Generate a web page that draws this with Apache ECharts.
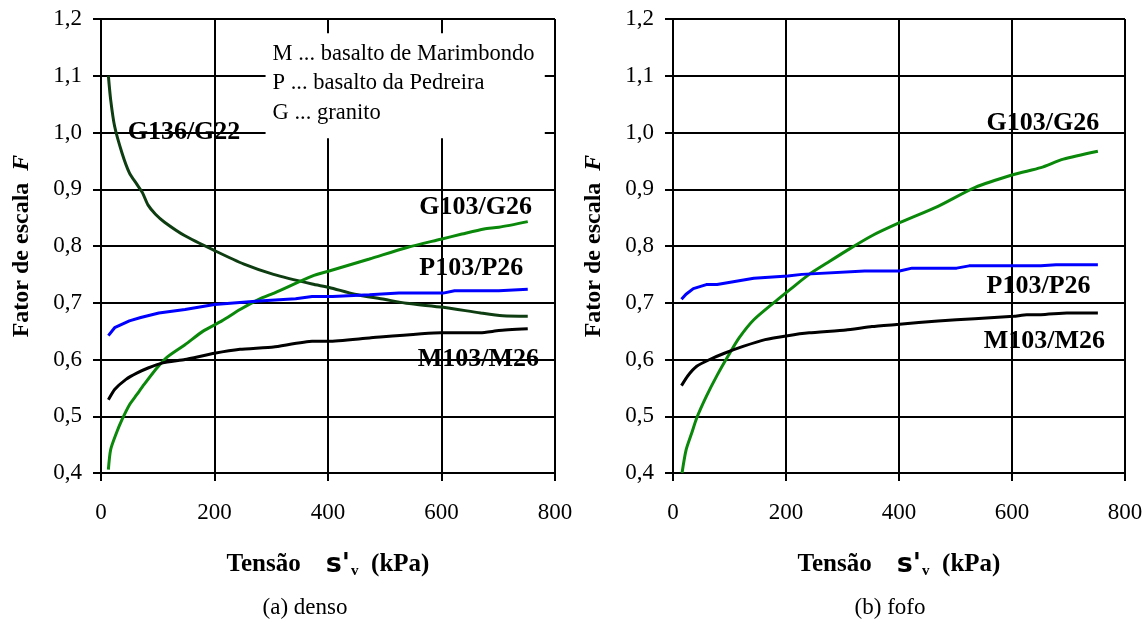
<!DOCTYPE html>
<html>
<head>
<meta charset="utf-8">
<title>Fator de escala F</title>
<script src="https://cdn.jsdelivr.net/npm/echarts@6/dist/echarts.min.js"></script>
<style>
  html, body { margin: 0; padding: 0; background: #fff; }
  #chart { width: 1147px; height: 628px; }
</style>
</head>
<body>
<div id="chart"></div>
<script>
// Tensão efetiva vertical (kPa) e fator de escala F, por par de amostras

// (a) denso
const densoG136X = [13, 17, 24, 37, 50, 63, 73, 83, 96, 112, 148, 200, 252, 304, 372, 402, 447, 499, 538, 603, 669, 708, 752];
const densoG136Y = [1.100, 1.058, 1.011, 0.964, 0.929, 0.909, 0.894, 0.872, 0.856, 0.842, 0.818, 0.792, 0.768, 0.750, 0.733, 0.727, 0.715, 0.706, 0.699, 0.692, 0.682, 0.677, 0.676];

const densoG103X = [13, 17, 27, 37, 50, 63, 76, 96, 115, 148, 180, 213, 245, 278, 307, 372, 402, 473, 538, 599, 636, 675, 701, 752];
const densoG103Y = [0.406, 0.441, 0.470, 0.494, 0.520, 0.538, 0.556, 0.582, 0.603, 0.626, 0.650, 0.668, 0.688, 0.706, 0.718, 0.747, 0.756, 0.777, 0.797, 0.812, 0.821, 0.830, 0.833, 0.843];

const densoP103X = [13, 24, 50, 70, 102, 148, 200, 278, 343, 372, 408, 473, 525, 603, 623, 701, 752];
const densoP103Y = [0.642, 0.656, 0.668, 0.674, 0.682, 0.688, 0.697, 0.703, 0.707, 0.711, 0.711, 0.714, 0.717, 0.717, 0.721, 0.721, 0.724];

const densoM103X = [13, 24, 44, 63, 83, 109, 148, 200, 245, 304, 372, 402, 473, 599, 669, 701, 752];
const densoM103Y = [0.529, 0.547, 0.565, 0.576, 0.585, 0.594, 0.600, 0.611, 0.618, 0.622, 0.632, 0.632, 0.638, 0.647, 0.647, 0.651, 0.654];

// (b) fofo
const fofoG103X = [16, 23, 33, 42, 59, 78, 98, 117, 143, 182, 208, 241, 274, 306, 352, 401, 469, 534, 603, 651, 691, 752];
const fofoG103Y = [0.400, 0.440, 0.470, 0.497, 0.535, 0.572, 0.607, 0.638, 0.670, 0.703, 0.724, 0.750, 0.771, 0.791, 0.818, 0.841, 0.870, 0.903, 0.926, 0.938, 0.953, 0.967];

const fofoP103X = [15, 23, 36, 59, 78, 143, 203, 228, 339, 401, 423, 502, 524, 651, 678, 752];
const fofoP103Y = [0.706, 0.715, 0.725, 0.732, 0.732, 0.743, 0.747, 0.750, 0.756, 0.756, 0.761, 0.761, 0.765, 0.765, 0.767, 0.767];

const fofoM103X = [15, 26, 42, 65, 91, 124, 163, 203, 241, 306, 352, 401, 469, 534, 603, 626, 651, 697, 752];
const fofoM103Y = [0.554, 0.571, 0.588, 0.600, 0.611, 0.623, 0.635, 0.642, 0.647, 0.652, 0.658, 0.662, 0.668, 0.672, 0.676, 0.679, 0.679, 0.682, 0.682];

// Rótulos das curvas (texto e ponto de ancoragem em coordenadas de dados)
const densoRotulos = ['G136/G22', 'G103/G26', 'P103/P26', 'M103/M26'];
const densoRotulosX = [47, 561, 561, 558];
const densoRotulosY = [1.0, 0.868, 0.76, 0.60];
const fofoRotulos = ['G103/G26', 'P103/P26', 'M103/M26'];
const fofoRotulosX = [555, 555, 550];
const fofoRotulosY = [1.017, 0.729, 0.632];

// Legenda das siglas
const siglas = ['M ... basalto de Marimbondo', 'P ... basalto da Pedreira', 'G ... granito'];
const caixaSiglasX = [290, 782];
const caixaSiglasY = [1.175, 0.99];

const subtitulos = ['(a) denso', '(b) fofo'];

const SERIF = '"Liberation Serif", "Times New Roman", serif';
const zip = (xs, ys) => xs.map((x, i) => [x, ys[i]]);
const fmt = v => v.toFixed(1).replace('.', ',');

const COR_G136 = '#0f3d12';
const COR_G103 = '#0a880a';
const COR_P = '#0000ff';
const COR_M = '#000000';

const chart = echarts.init(document.getElementById('chart'), null, { renderer: 'canvas' });

function eixoX(idx) {
  return {
    gridIndex: idx, type: 'value', min: 0, max: 800, interval: 200,
    axisLine: { show: true, onZero: false, lineStyle: { color: '#000', width: 2 } },
    axisTick: { show: true, length: 8, lineStyle: { color: '#000', width: 2 } },
    splitLine: { show: true, showMinLine: true, showMaxLine: true, lineStyle: { color: '#000', width: 2 } },
    axisLabel: { fontFamily: SERIF, fontSize: 23, color: '#000', margin: 28 },
    name: "{t|Tensão    }{s|s'}{v|v}{t|  (kPa)}",
    nameLocation: 'middle', nameGap: 78,
    nameTextStyle: {
      rich: {
        t: { fontFamily: SERIF, fontWeight: 'bold', fontSize: 25, color: '#000', lineHeight: 28 },
        s: { fontFamily: '"DejaVu Sans", sans-serif', fontWeight: 'bold', fontSize: 27, color: '#000', lineHeight: 28 },
        v: { fontFamily: SERIF, fontWeight: 'bold', fontSize: 15, color: '#000', lineHeight: 28, verticalAlign: 'bottom', padding: [0, 0, 0, 1] }
      }
    }
  };
}

function eixoY(idx) {
  return {
    gridIndex: idx, type: 'value', min: 0.4, max: 1.2, interval: 0.1,
    axisLine: { show: true, onZero: false, lineStyle: { color: '#000', width: 2 } },
    axisTick: { show: true, length: 8, lineStyle: { color: '#000', width: 2 } },
    splitLine: { show: true, showMinLine: true, showMaxLine: true, lineStyle: { color: '#000', width: 2 } },
    axisLabel: { fontFamily: SERIF, fontSize: 23, color: '#000', margin: 19, formatter: fmt },
    name: '{t|Fator de escala  }{f|F}',
    nameLocation: 'middle', nameGap: 67,
    nameTextStyle: {
      rich: {
        t: { fontFamily: SERIF, fontWeight: 'bold', fontSize: 24, color: '#000' },
        f: { fontFamily: SERIF, fontWeight: 'bold', fontStyle: 'italic', fontSize: 24, color: '#000' }
      }
    }
  };
}

function curva(nome, xs, ys, cor, idx, extra) {
  return Object.assign({
    name: nome, type: 'line', xAxisIndex: idx, yAxisIndex: idx,
    data: zip(xs, ys), symbol: 'none', smooth: 0.25,
    lineStyle: { color: cor, width: 3 }, itemStyle: { color: cor },
    silent: true, animation: false, z: 3
  }, extra || {});
}

function rotulos(textos, xs, ys, idx) {
  return {
    type: 'scatter', xAxisIndex: idx, yAxisIndex: idx, symbolSize: 0, silent: true,
    animation: false, z: -1,
    itemStyle: { opacity: 1 },
    data: textos.map((t, i) => ({ value: [xs[i], ys[i]], name: t })),
    label: {
      show: true, position: 'right', distance: 0, formatter: p => p.name,
      fontFamily: SERIF, fontWeight: 'bold', fontSize: 26, color: '#000', opacity: 1
    }
  };
}

const option = {
  backgroundColor: '#fff',
  animation: false,
  grid: [
    { left: 101, top: 19, width: 454, height: 454 },
    { left: 673, top: 19, width: 452, height: 454 }
  ],
  xAxis: [eixoX(0), eixoX(1)],
  yAxis: [eixoY(0), eixoY(1)],
  series: [
    curva('G136/G22', densoG136X, densoG136Y, COR_G136, 0, {
      markArea: {
        silent: true,
        itemStyle: { color: '#fff', opacity: 1, borderWidth: 0 },
        label: {
          show: true, position: 'insideTopLeft', distance: 0, padding: [6, 0, 0, 7],
          fontFamily: SERIF, fontSize: 22.5, lineHeight: 29.5, color: '#000',
          formatter: siglas.join('\n')
        },
        data: [[{ coord: [caixaSiglasX[0], caixaSiglasY[0]] }, { coord: [caixaSiglasX[1], caixaSiglasY[1]] }]]
      }
    }),
    curva('G103/G26', densoG103X, densoG103Y, COR_G103, 0),
    curva('P103/P26', densoP103X, densoP103Y, COR_P, 0, { smooth: false }),
    curva('M103/M26', densoM103X, densoM103Y, COR_M, 0, { smooth: 0.15 }),
    curva('G103/G26', fofoG103X, fofoG103Y, COR_G103, 1),
    curva('P103/P26', fofoP103X, fofoP103Y, COR_P, 1, { smooth: false }),
    curva('M103/M26', fofoM103X, fofoM103Y, COR_M, 1, { smooth: 0.15 }),
    rotulos(densoRotulos, densoRotulosX, densoRotulosY, 0),
    rotulos(fofoRotulos, fofoRotulosX, fofoRotulosY, 1)
  ],
  graphic: [
    { type: 'text', x: 305, y: 608, style: { text: subtitulos[0], fontFamily: SERIF, fontSize: 23, fill: '#000', align: 'center', verticalAlign: 'middle' } },
    { type: 'text', x: 890, y: 608, style: { text: subtitulos[1], fontFamily: SERIF, fontSize: 23, fill: '#000', align: 'center', verticalAlign: 'middle' } }
  ]
};

chart.setOption(option);
</script>
</body>
</html>
